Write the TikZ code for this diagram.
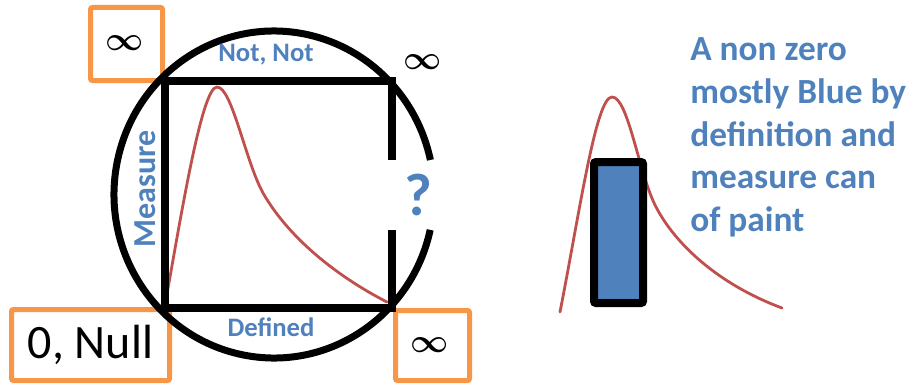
\documentclass[tikz,border=0pt]{standalone}
\usepackage{amsmath}
\usepackage{fontspec}
\setmainfont{Carlito}
\definecolor{oboxc}{RGB}{247,150,70}
\definecolor{bluetxt}{RGB}{79,129,189}
\definecolor{curvec}{RGB}{192,80,77}
\tikzset{
  obox/.style={draw=oboxc, line width=3.75pt, rounded corners=1.5pt, inner sep=0pt},
  blackline/.style={draw=black, line width=6pt, line join=miter},
  ringline/.style={draw=black, line width=5.25pt},
  redcurve/.style={draw=curvec, line width=2.1pt, line cap=round},
  bluelabel/.style={text=bluetxt, font=\bfseries\fontsize{20}{24}\selectfont, inner sep=0pt},
  infsym/.style={font=\fontsize{27}{30}\selectfont, inner sep=0pt}
}
\begin{document}
\begin{tikzpicture}[x=0.75pt,y=-0.75pt]
\useasboundingbox (0,0) rectangle (912,385);
% orange boxes
\node[obox, minimum width=54pt, minimum height=54.75pt] (inftl) at (126.5,44) {};
\node[infsym] (inftlsym) at (125,43) {$\boldsymbol{\infty}$};
\node[obox, minimum width=118.5pt, minimum height=53.25pt, font=\fontsize{36}{40}\selectfont] (null) at (90.5,345) {0, Null};
\node[obox, minimum width=55.5pt, minimum height=52.5pt] (infbr) at (432.5,345.5) {};
\node[infsym] (infbrsym) at (430,345) {$\boldsymbol{\infty}$};
\node[infsym] (inftr) at (423,62) {$\boldsymbol{\infty}$};
% red curve (left)
\coordinate (A) at (164.5,308);
\coordinate (B) at (164.5,81);
\coordinate (C) at (392,81);
\coordinate (D) at (392,308);
\draw[redcurve] (A) .. controls (182,210) and (202,87) .. (217,87)
  .. controls (232,87) and (245,160) .. (263,193)
  .. controls (290,240) and (340,278) .. (387,302);
% ring with a gap on the right
\draw[ringline] (274,194.5) ++(12.5:160 and 163.5) arc[start angle=12.5, end angle=347.8, x radius=160, y radius=163.5];
% square with a gap on the right
\draw[blackline] (392,160) -- (C) -- (B) -- (A) -- (D) -- (392,230);
% labels
\node[bluelabel] (notnot) at (266,55) {Not, Not};
\node[bluelabel] (defined) at (271,327) {Defined};
\node[bluelabel, font=\bfseries\fontsize{24}{28}\selectfont, rotate=90] (measure) at (145,189) {Measure};
\node[bluelabel, font=\bfseries\fontsize{45}{48}\selectfont] (quest) at (418,195) {?};
% right part
\draw[redcurve] (560,312) .. controls (580,210) and (596,97) .. (612,97)
  .. controls (628,97) and (638,170) .. (655,205)
  .. controls (675,245) and (720,285) .. (782,308);
\node[draw=black, fill=bluetxt, line width=6pt, rounded corners=1.5pt, minimum width=36.75pt, minimum height=105.75pt, inner sep=0pt] (can) at (618.5,232.5) {};
\node[anchor=north west, inner sep=0pt, align=left, text=bluetxt, font=\bfseries\fontsize{26.5}{32.2}\selectfont] (desc) at (690,37) {A non zero\\mostly Blue by\\definition and\\measure can\\of paint};
\end{tikzpicture}
\end{document}
